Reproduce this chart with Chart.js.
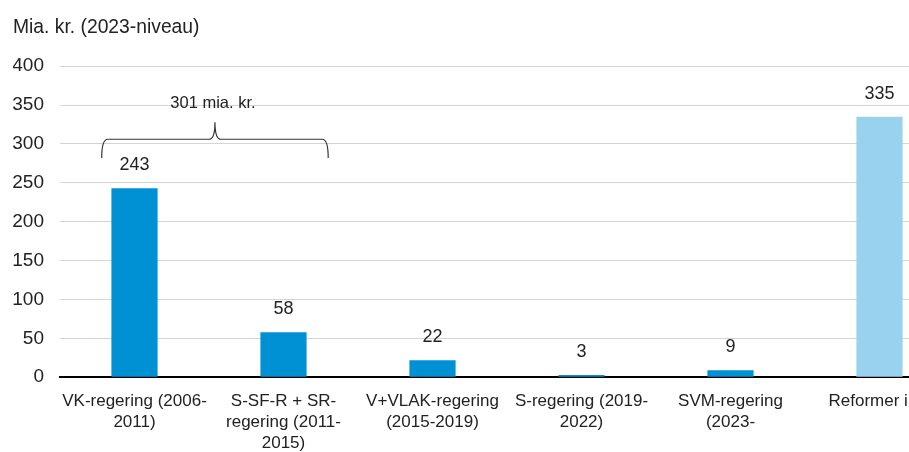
<!DOCTYPE html>
<html>
<head>
<meta charset="utf-8">
<script src="https://cdn.jsdelivr.net/npm/chart.js@4/dist/chart.umd.min.js"></script>
<style>
  html, body { margin: 0; padding: 0; background: #fff; overflow: hidden; width: 909px; height: 452px; }
  #wrap { width: 960px; height: 467px; position: relative; }
</style>
</head>
<body>
<div id="wrap"><canvas id="chart"></canvas></div>
<script>
const categories = [
  ["VK-regering (2006-", "2011)"],
  ["S-SF-R + SR-", "regering (2011-", "2015)"],
  ["V+VLAK-regering", "(2015-2019)"],
  ["S-regering (2019-", "2022)"],
  ["SVM-regering", "(2023-"],
  ["Reformer i alt"]
];
const values = [243, 58, 22, 3, 9, 335];
const barColors = ["#0091d5", "#0091d5", "#0091d5", "#0091d5", "#0091d5", "#99d2ef"];
const yTicks = [0, 50, 100, 150, 200, 250, 300, 350, 400];
const titleText = "Mia. kr. (2023-niveau)";
const braceLabel = "301 mia. kr.";

const FONT = "'Liberation Sans', Arial, sans-serif";

// tal over søjlerne
const valueLabels = {
  id: "valueLabels",
  afterDatasetsDraw(chart) {
    const ctx = chart.ctx;
    const meta = chart.getDatasetMeta(0);
    ctx.save();
    ctx.font = "18px " + FONT;
    ctx.fillStyle = "#222";
    ctx.textAlign = "center";
    ctx.textBaseline = "middle";
    meta.data.forEach((bar, i) => {
      ctx.fillText(values[i], bar.x, bar.y - 23);
    });
    ctx.restore();
  }
};

// klamme over de to første søjler
const brace = {
  id: "brace",
  afterDatasetsDraw(chart) {
    const ctx = chart.ctx;
    const x = chart.scales.x, y = chart.scales.y;
    const x0 = x.getPixelForValue(-0.22);
    const x1 = x.getPixelForValue(1.3);
    const xm = x.getPixelForValue(0.54);
    const yl = y.getPixelForValue(306);
    const yEnd = y.getPixelForValue(282);
    const yTip = y.getPixelForValue(328);
    ctx.save();
    ctx.strokeStyle = "#333";
    ctx.lineWidth = 1.2;
    ctx.beginPath();
    ctx.moveTo(x0, yEnd);
    ctx.quadraticCurveTo(x0, yl, x0 + 6, yl);
    ctx.lineTo(xm - 6, yl);
    ctx.quadraticCurveTo(xm, yl, xm, yTip);
    ctx.quadraticCurveTo(xm, yl, xm + 6, yl);
    ctx.lineTo(x1 - 6, yl);
    ctx.quadraticCurveTo(x1, yl, x1, yEnd);
    ctx.stroke();
    ctx.font = "16.5px " + FONT;
    ctx.fillStyle = "#222";
    ctx.textAlign = "center";
    ctx.textBaseline = "middle";
    ctx.fillText(braceLabel, xm - 2, y.getPixelForValue(352));
    ctx.restore();
  }
};

new Chart(document.getElementById("chart"), {
  type: "bar",
  data: {
    labels: categories,
    datasets: [{
      data: values,
      backgroundColor: barColors,
      barPercentage: 0.31,
      categoryPercentage: 1.0
    }]
  },
  options: {
    responsive: true,
    maintainAspectRatio: false,
    animation: false,
    layout: { padding: { left: 13, right: 6, top: 0, bottom: 0 } },
    plugins: {
      legend: { display: false },
      tooltip: { enabled: false },
      title: {
        display: true,
        text: titleText,
        align: "start",
        color: "#222",
        font: { family: FONT, size: 19.3, weight: "normal" },
        padding: { top: 16, bottom: 27 }
      }
    },
    scales: {
      x: {
        grid: { display: false, drawTicks: false },
        border: { display: true, color: "#000", width: 2 },
        ticks: {
          color: "#222",
          font: { family: FONT, size: 17, lineHeight: 1.25 },
          padding: 13,
          maxRotation: 0,
          autoSkip: false
        }
      },
      y: {
        min: 0,
        max: 400,
        afterBuildTicks(scale) { scale.ticks = yTicks.map(v => ({ value: v })); },
        afterFit(scale) { scale.width = 47; },
        border: { display: false },
        grid: {
          drawTicks: false,
          color: (c) => c.tick && c.tick.value === 0 ? "rgba(0,0,0,0)" : "#d4d4d4",
          lineWidth: 1
        },
        ticks: {
          color: "#222",
          font: { family: FONT, size: 19 },
          padding: 16
        }
      }
    }
  },
  plugins: [valueLabels, brace]
});
</script>
</body>
</html>
